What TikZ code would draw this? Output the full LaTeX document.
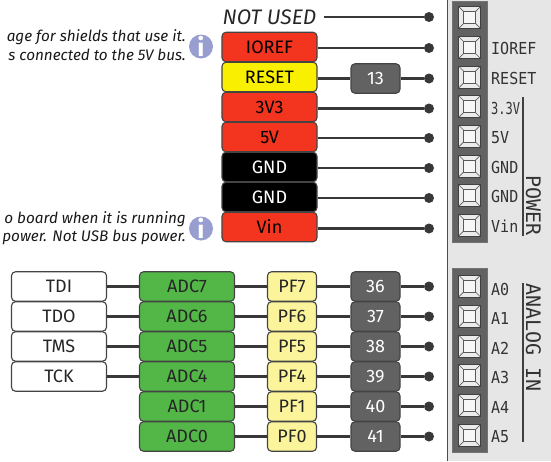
\documentclass[tikz,border=0pt]{standalone}
\usepackage{fontspec}
\setmainfont{Fira Sans}
\setmonofont{DejaVu Sans Mono}
\definecolor{redpin}{HTML}{F3351F}
\definecolor{yellowpin}{HTML}{F9EF00}
\definecolor{greenpin}{HTML}{52B747}
\definecolor{palepin}{HTML}{FBF49B}
\definecolor{graypin}{HTML}{626262}
\definecolor{edgecol}{HTML}{444444}
\definecolor{infocol}{HTML}{989FD0}
\definecolor{panelcol}{HTML}{E6E6E6}
\tikzset{
  pinbox/.style={draw=edgecol,line width=1.1pt,rounded corners=4pt,minimum height=29.5pt,
    inner sep=0pt,font=\fontsize{18}{18}\selectfont,text height=12.4pt,text depth=0pt},
  wide/.style={pinbox,minimum width=95pt},
  narrow/.style={pinbox,minimum width=49pt},
  power/.style={wide,fill=redpin,text=black},
  ground/.style={wide,fill=black,text=white},
  jtag/.style={wide,fill=white,text=black!85},
  adc/.style={wide,fill=greenpin,text=black!85},
  port/.style={narrow,fill=palepin,text=black!85},
  number/.style={narrow,fill=graypin,text=white},
  dot/.style={circle,fill=black!78,inner sep=0pt,minimum size=10pt},
  wire/.style={draw=black!78,line width=2.4pt},
  silk/.style={font=\ttfamily\fontsize{16.5}{16.5}\selectfont,text=black!80,inner sep=0pt,
    anchor=west,xscale=.91,text height=12pt,text depth=0pt},
  silkbig/.style={font=\ttfamily\fontsize{20}{20}\selectfont,text=black!80,inner sep=0pt,
    anchor=west,rotate=-90,text height=14pt,text depth=0pt},
  note/.style={font=\itshape\fontsize{15.3}{15.3}\selectfont,text=black!90,inner sep=0pt,anchor=east},
  info/.style={circle,fill=infocol,text=white,inner sep=0pt,minimum size=24pt,
    font=\bfseries\fontsize{25}{25}\selectfont},
  header/.style={fill=graypin,draw=black!55,line width=.5pt},
  socket/.style={draw=black!75,fill=black!8,line width=1pt,minimum size=22pt,inner sep=0pt,
    path picture={
      \draw[black!65,line width=.7pt,fill=black!3]
        ([xshift=5pt,yshift=5pt]path picture bounding box.south west) rectangle
        ([xshift=-5pt,yshift=-5pt]path picture bounding box.north east);
      \draw[black!65,line width=.7pt]
        (path picture bounding box.south west) -- ++(5pt,5pt)
        (path picture bounding box.south east) -- ++(-5pt,5pt)
        (path picture bounding box.north west) -- ++(5pt,-5pt)
        (path picture bounding box.north east) -- ++(-5pt,-5pt);
    }},
}
\begin{document}
\begin{tikzpicture}[x=1pt,y=-1pt]
  \useasboundingbox (0,0) rectangle (551,461);
  % board edge
  \fill[panelcol] (447,0) rectangle (551,461);
  \draw[black!70,line width=.8pt] (447,0) -- (447,461);
  \draw[header] (452.5,1) rectangle (487,242);
  \draw[header] (452.5,268.5) rectangle (487,452);
  % notes
  \draw
    (186,37) node[note] (note1){age for shields that use it.}
    (186,55) node[note] (note2){s connected to the 5V bus.}
    (186,219) node[note] (note3){o board when it is running}
    (186,237) node[note] (note4){power. Not USB bus power.}
    (201,46.5) node[info] (info1){i}
    (201,228.5) node[info] (info2){i};
  % upper pins
  \draw
    (269.5,17) node[inner sep=0pt,font=\itshape\fontsize{21}{21}\selectfont,text=black!85] (notused){NOT USED}
    (269.5,47) node[power] (ioref){IOREF}
    (269.5,77) node[wide,fill=yellowpin,text=black] (reset){RESET}
    (269.5,107) node[power] (v33){3V3}
    (269.5,137) node[power] (v5){5V}
    (269.5,167) node[ground] (gnd1){GND}
    (269.5,197) node[ground] (gnd2){GND}
    (269.5,227) node[power] (vin){Vin}
    (375.5,78.5) node[number] (n13){13};
  % lower pins
  \draw
    (59,286.5) node[jtag] (tdi){TDI}
    (59,316.5) node[jtag] (tdo){TDO}
    (59,346.5) node[jtag] (tms){TMS}
    (59,376.5) node[jtag] (tck){TCK}
    (187,286.5) node[adc] (adc7){ADC7}
    (187,316.5) node[adc] (adc6){ADC6}
    (187,346.5) node[adc] (adc5){ADC5}
    (187,376.5) node[adc] (adc4){ADC4}
    (187,406.5) node[adc] (adc1){ADC1}
    (187,436.5) node[adc] (adc0){ADC0}
    (292,286.5) node[port] (pf7){PF7}
    (292,316.5) node[port] (pf6){PF6}
    (292,346.5) node[port] (pf5){PF5}
    (292,376.5) node[port] (pf4){PF4}
    (292,406.5) node[port] (pf1){PF1}
    (292,436.5) node[port] (pf0){PF0}
    (375.5,286.5) node[number] (n36){36}
    (375.5,316.5) node[number] (n37){37}
    (375.5,346.5) node[number] (n38){38}
    (375.5,376.5) node[number] (n39){39}
    (375.5,406.5) node[number] (n40){40}
    (375.5,436.5) node[number] (n41){41};
  % end dots
  \draw
    (429,17) node[dot] (d0){}
    (429,48) node[dot] (d1){}
    (429,78.5) node[dot] (d2){}
    (429,108.5) node[dot] (d3){}
    (429,138) node[dot] (d4){}
    (429,168) node[dot] (d5){}
    (429,198) node[dot] (d6){}
    (429,228.5) node[dot] (d7){}
    (429,286.5) node[dot] (d8){}
    (429,316.5) node[dot] (d9){}
    (429,346.5) node[dot] (d10){}
    (429,376.5) node[dot] (d11){}
    (429,406.5) node[dot] (d12){}
    (429,436.5) node[dot] (d13){};
  \begin{scope}[wire]
    \draw[line width=1.4pt] (notused.east) ++(8,0) -- (d0);
    \draw (ioref.east|-d1) -- (d1);
    \draw (reset.east|-n13) -- (n13);
    \draw (n13) -- (d2);
    \draw (v33.east|-d3) -- (d3);
    \draw (v5.east|-d4) -- (d4);
    \draw (gnd1.east|-d5) -- (d5);
    \draw (gnd2.east|-d6) -- (d6);
    \draw (vin.east|-d7) -- (d7);
    \draw (tdi) -- (adc7);
    \draw (tdo) -- (adc6);
    \draw (tms) -- (adc5);
    \draw (tck) -- (adc4);
    \draw (adc7) -- (pf7);
    \draw (adc6) -- (pf6);
    \draw (adc5) -- (pf5);
    \draw (adc4) -- (pf4);
    \draw (adc1) -- (pf1);
    \draw (adc0) -- (pf0);
    \draw (pf7) -- (n36);
    \draw (pf6) -- (n37);
    \draw (pf5) -- (n38);
    \draw (pf4) -- (n39);
    \draw (pf1) -- (n40);
    \draw (pf0) -- (n41);
    \draw (n36) -- (d8);
    \draw (n37) -- (d9);
    \draw (n38) -- (d10);
    \draw (n39) -- (d11);
    \draw (n40) -- (d12);
    \draw (n41) -- (d13);
  \end{scope}
  % header sockets
  \draw
    (469.5,17.5) node[socket] (s0){}
    (469.5,47.5) node[socket] (s1){}
    (469.5,77) node[socket] (s2){}
    (469.5,106.5) node[socket] (s3){}
    (469.5,136) node[socket] (s4){}
    (469.5,166) node[socket] (s5){}
    (469.5,195.5) node[socket] (s6){}
    (469.5,225) node[socket] (s7){}
    (469.5,286) node[socket] (s8){}
    (469.5,316) node[socket] (s9){}
    (469.5,346) node[socket] (s10){}
    (469.5,375.5) node[socket] (s11){}
    (469.5,405.5) node[socket] (s12){}
    (469.5,435.5) node[socket] (s13){};
  % silk labels
  \draw
    (491,48.5) node[silk] (l1){IOREF}
    (491,78.5) node[silk] (l2){RESET}
    (491,108) node[silk,xscale=.8] (l3){3.3V}
    (491,137.5) node[silk] (l4){5V}
    (491,167) node[silk] (l5){GND}
    (491,196.5) node[silk] (l6){GND}
    (491,226) node[silk] (l7){Vin}
    (491,289) node[silk] (l8){A0}
    (491,318.5) node[silk] (l9){A1}
    (491,348) node[silk] (l10){A2}
    (491,377.5) node[silk] (l11){A3}
    (491,407) node[silk] (l12){A4}
    (491,436.5) node[silk] (l13){A5}
    (533,175) node[silkbig] (lpower){POWER}
    (533,283) node[silkbig] (lanalog){ANALOG IN};
  \draw[black!75,line width=1.2pt] (523,97) -- (523,236);
  \draw[black!75,line width=1.2pt] (523,283) -- (523,442);
\end{tikzpicture}
\end{document}
